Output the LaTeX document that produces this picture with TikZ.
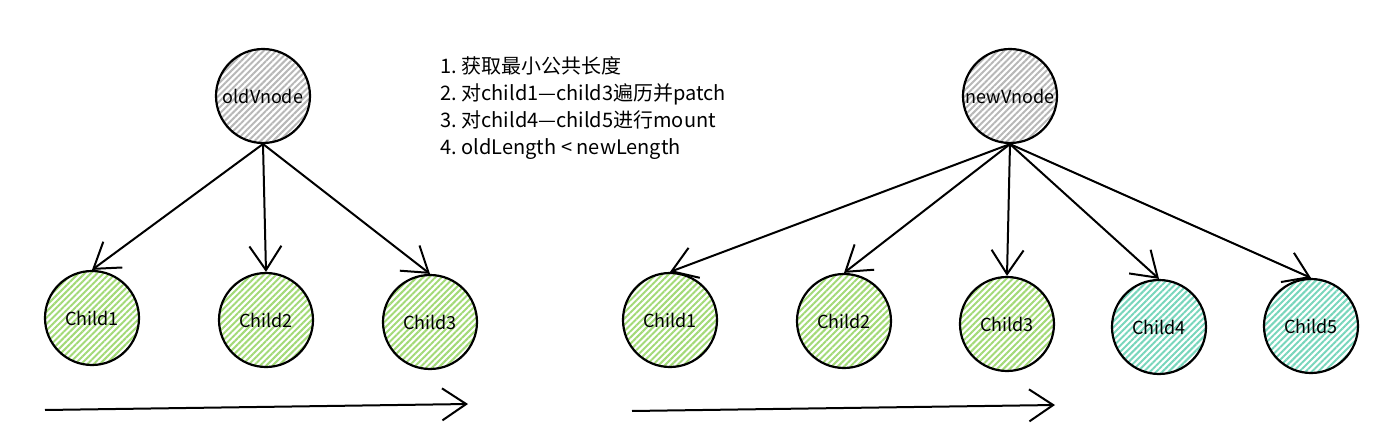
\documentclass[tikz,border=0pt]{standalone}
\usepackage{fontspec}
\setmainfont{Noto Sans CJK SC}
\usetikzlibrary{arrows.meta, patterns.meta}

\definecolor{hatchgrey}{HTML}{B8B8B8}
\definecolor{hatchgreen}{HTML}{A3DA78}
\definecolor{hatchteal}{HTML}{78D6BC}

\tikzset{
  ball/.style = {circle, draw, line width = 1.1pt, minimum size = 47pt,
    inner sep = 0pt, font = \fontsize{9}{11}\selectfont},
  greyball/.style = {ball, pattern = {Lines[angle = 45, distance = 2.2pt, line width = 1pt]},
    pattern color = hatchgrey},
  greenball/.style = {ball, pattern = {Lines[angle = 45, distance = 2.2pt, line width = 1pt]},
    pattern color = hatchgreen},
  tealball/.style = {ball, pattern = {Lines[angle = 45, distance = 2.2pt, line width = 1pt]},
    pattern color = hatchteal},
  arr/.style = {line width = 1pt, -{Straight Barb[length = 12pt, width = 16pt]}}
}

\begin{document}
\begin{tikzpicture}[x = 0.5pt, y = -0.5pt]
  \useasboundingbox (0, 0) rectangle (1383, 439);

  % old children
  \node [greyball] (old) at (263, 96) {oldVnode};
  \node [greenball] (oc1) at (92, 318) {Child1};
  \node [greenball] (oc2) at (266, 320) {Child2};
  \node [greenball] (oc3) at (430, 322) {Child3};
  \draw [arr] (old.south) -- (oc1.north);
  \draw [arr] (old.south) -- (oc2.north);
  \draw [arr] (old.south) -- (oc3.north);

  % new children
  \node [greyball] (new) at (1010, 96) {newVnode};
  \node [greenball] (nc1) at (670, 320) {Child1};
  \node [greenball] (nc2) at (844, 321) {Child2};
  \node [greenball] (nc3) at (1007, 324) {Child3};
  \node [tealball] (nc4) at (1159, 327) {Child4};
  \node [tealball] (nc5) at (1311, 326) {Child5};
  \foreach \i in {1, ..., 5}
  {
    \draw [arr] (new.south) -- (nc\i.north);
  }

  % steps
  \node [anchor = north west, align = left, inner sep = 0pt,
    font = \fontsize{10}{13.5}\selectfont] (steps) at (440, 56)
    {1.\ 获取最小公共长度\\
     2.\ 对child1—child3遍历并patch\\
     3.\ 对child4—child5进行mount\\
     4.\ oldLength < newLength};

  % time lines
  \coordinate (ostart) at (45, 410);
  \coordinate (oend) at (468, 404);
  \coordinate (nstart) at (632, 411);
  \coordinate (nend) at (1055, 405);
  \draw [arr] (ostart) -- (oend);
  \draw [arr] (nstart) -- (nend);
\end{tikzpicture}
\end{document}
